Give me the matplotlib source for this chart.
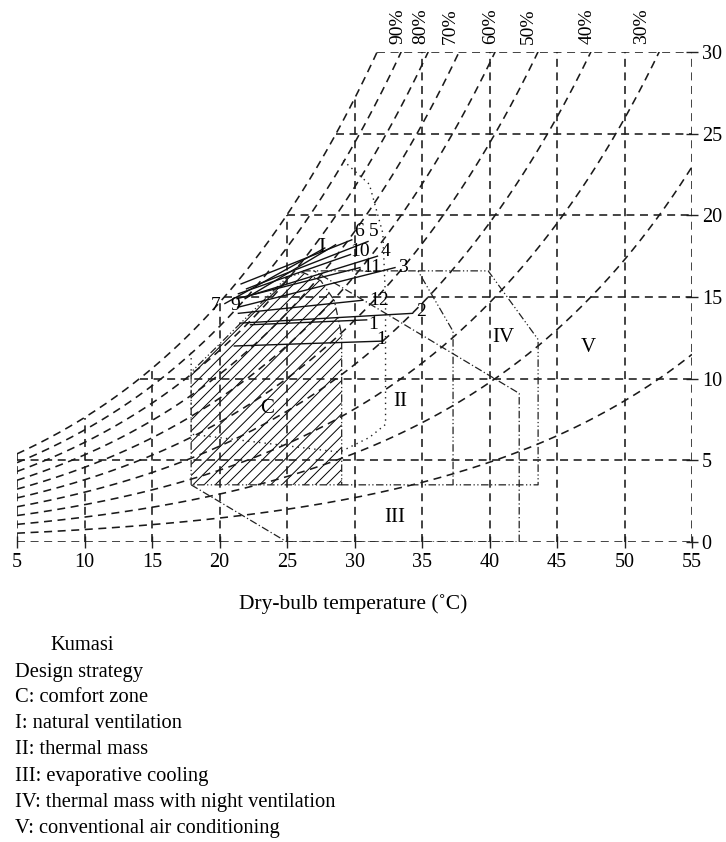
import numpy as np
import matplotlib
matplotlib.use('Agg')
import matplotlib.pyplot as plt
from matplotlib.patches import Polygon

plt.rcParams['font.family'] = ['Liberation Serif', 'DejaVu Serif']
plt.rcParams['hatch.linewidth'] = 0.7

# axes / grid values
temp_ticks = [5, 10, 15, 20, 25, 30, 35, 40, 45, 50, 55]
hum_ticks = [0, 5, 10, 15, 20, 25, 30]
rh_curves = [100, 90, 80, 70, 60, 50, 40, 30, 20, 10]
rh_labels = ['90%', '80%', '70%', '60%', '50%', '40%', '30%']
rh_label_t = [33.2, 34.9, 37.1, 40.1, 42.85, 47.2, 51.3]

# monthly lines (Tmin, W) -> (Tmax, W)
month_labels = ['6', '5', '10', '4', '11', '3', '12', '2', '1', '1', '7', '9']
t_low = [21.6, 22.0, 21.4, 21.9, 21.3, 21.5, 21.4, 21.5, 22.3, 21.1, 20.4, 21.9]
w_low = [15.8, 15.5, 15.2, 15.0, 14.9, 14.4, 14.0, 13.4, 13.3, 12.0, 14.6, 14.9]
t_high = [29.8, 31.0, 29.7, 31.7, 30.4, 33.0, 30.6, 34.3, 30.9, 32.1, 27.8, 28.6]
w_high = [18.5, 18.4, 17.6, 17.5, 16.8, 16.8, 14.8, 14.0, 13.6, 12.3, 18.0, 18.2]
label_t = [30.3, 31.4, 30.4, 32.3, 31.3, 33.6, 31.8, 34.9, 31.4, 32.0, 19.7, 21.2]
label_w = [19.0, 19.0, 17.8, 17.8, 16.8, 16.8, 14.8, 14.1, 13.3, 12.4, 14.5, 14.5]

# zones
comfort_t = [17.9, 17.9, 25.0, 26.2, 27.5, 28.5, 29.05, 29.05]
comfort_w = [3.5, 10.4, 16.2, 16.5, 16.0, 14.8, 12.7, 3.5]
vent_t = [17.9, 17.9, 28.9, 31.1, 32.3, 32.3, 32.1, 31.1, 29.1]
vent_w = [11.6, 6.6, 5.5, 6.4, 7.2, 14.8, 18.9, 21.9, 23.4]
mass_t = [26.2, 34.7, 37.3, 37.3]
mass_w = [16.6, 16.6, 12.9, 3.5]
night_t = [34.7, 39.9, 43.6, 43.6, 29.05]
night_w = [16.6, 16.6, 12.4, 3.5, 3.5]
evap_t = [17.9, 25.0, 42.2, 42.2, 32.3, 27.0]
evap_w = [3.5, 0.0, 0.0, 9.1, 14.0, 16.6]

zone_names = ['C', 'I', 'II', 'III', 'IV', 'V']
zone_t = [23.5, 27.6, 33.4, 33.0, 41.0, 47.3]
zone_w = [8.2, 18.0, 8.6, 1.5, 12.5, 11.9]

legend_lines = ['Design strategy', 'C: comfort zone', 'I: natural ventilation',
                'II: thermal mass', 'III: evaporative cooling',
                'IV: thermal mass with night ventilation',
                'V: conventional air conditioning']


def w_sat(t):
    p = 0.61094 * np.exp(17.625 * t / (t + 243.04))
    return 622 * p / (101.325 - p)


def t_sat(w):
    tt = np.linspace(-10, 60, 3000)
    return np.interp(w, w_sat(tt), tt)


fig = plt.figure(figsize=(7.26, 8.42), dpi=100)
ax = fig.add_axes([17 / 726, 1 - 542 / 842, 675 / 726, 490 / 842])
ax.set_xlim(5, 55)
ax.set_ylim(0, 30)

grid_kw = dict(color='#1a1a1a', lw=1.15, ls=(0, (5, 3.5)))
for t in temp_ticks:
    ax.plot([t, t], [0, min(w_sat(t), 30)], **grid_kw)
for w in hum_ticks:
    ax.plot([max(5, t_sat(w)), 55], [w, w], **grid_kw)
tt = np.linspace(5, 55, 500)
for rh in rh_curves:
    ax.plot(tt, rh / 100 * w_sat(tt), **grid_kw)

# zones
ax.add_patch(Polygon(np.column_stack([comfort_t, comfort_w]), closed=True,
                     facecolor='none', edgecolor='black', hatch='///', lw=0))
dashdot = (0, (6, 2, 1, 2, 1, 2))
ax.plot(comfort_t + comfort_t[:1], comfort_w + comfort_w[:1], color='#222', lw=0.9, ls=dashdot)
ax.plot(vent_t, vent_w, color='#222', lw=1.0, ls=(0, (1, 3)))
ax.plot(mass_t, mass_w, color='#222', lw=0.9, ls=dashdot)
ax.plot(night_t, night_w, color='#222', lw=0.9, ls=dashdot)
ax.plot(evap_t, evap_w, color='#222', lw=0.9, ls=(0, (6, 2, 1, 2)))

# monthly lines
for i in range(len(month_labels)):
    ax.plot([t_low[i], t_high[i]], [w_low[i], w_high[i]], color='#111', lw=1.0)
    ax.text(label_t[i], label_w[i], month_labels[i], fontsize=14,
            ha='center', va='center')

for name, t, w in zip(zone_names, zone_t, zone_w):
    ax.text(t, w, name, fontsize=15, ha='center', va='center')

for lab, t in zip(rh_labels, rh_label_t):
    ax.text(t, 30.5, lab, fontsize=14, rotation=90, ha='center', va='bottom')

ax.set_xticks(temp_ticks)
ax.set_yticks(hum_ticks)
ax.yaxis.tick_right()
ax.tick_params(direction='inout', length=8, width=1, color='#222',
               labelcolor='black', labelsize=14.5)
ax.tick_params(axis='x', pad=4)
ax.tick_params(axis='y', pad=3)
for s in ax.spines.values():
    s.set_visible(False)

fig.text(353 / 726, 1 - 604 / 842, 'Dry-bulb temperature (˚C)', fontsize=15.5,
         ha='center', va='center')

fig.text(50 / 726, 1 - 645 / 842, 'Kumasi', fontsize=14.8, va='center')
for i, line in enumerate(legend_lines):
    fig.text(15 / 726, 1 - (672 + 26 * i) / 842, line, fontsize=14.8, va='center')

fig.savefig('out.png', dpi=100)
